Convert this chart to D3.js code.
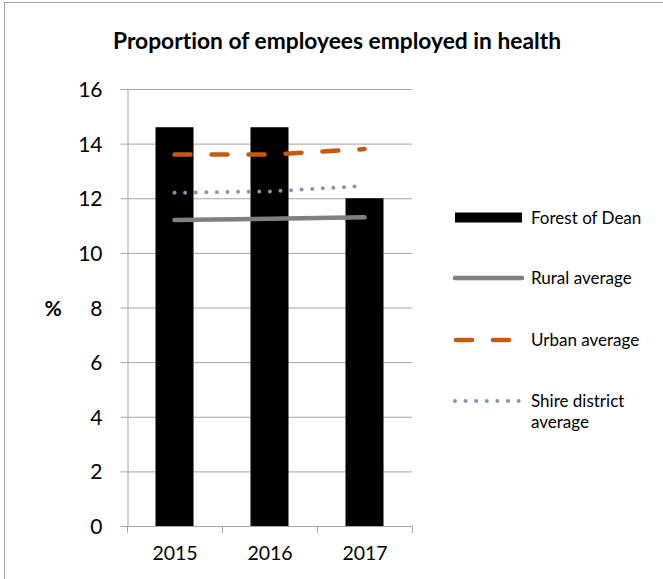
<!DOCTYPE html>
<html><head><meta charset="utf-8">
<script src="https://cdn.jsdelivr.net/npm/d3@7"></script>
<style>body{margin:0;background:#fff}svg{display:block}</style>
</head><body>
<svg id="c" width="663" height="579"></svg>
<script>
const years = ["2015","2016","2017"];
const forestOfDean = [14.6, 14.6, 12.0];
const ruralAverage = [11.2, 11.25, 11.3];
const urbanAverage = [13.6, 13.6, 13.8];
const shireAverage = [12.2, 12.25, 12.45];
const yTicks = [0,2,4,6,8,10,12,14,16];
const legendLabels = ["Forest of Dean","Rural average","Urban average",["Shire district","average"]];

const svg = d3.select("#c");
const font = "Lato, 'Open Sans', sans-serif";
svg.append("rect").attr("x",4.5).attr("y",2.5).attr("width",700).attr("height",600)
  .attr("fill","#fff").attr("stroke","#a0a0a0");

const x = d3.scaleBand().domain(years).range([127,412]).paddingInner(0.6).paddingOuter(0.3);
const xc = d3.scalePoint().domain(years).range([127,412]).padding(0.5);
const y = d3.scaleLinear().domain([0,16]).range([526,89]);

// gridlines
svg.append("g").selectAll("line").data(yTicks.filter(d=>d>0)).join("line")
  .attr("x1",127).attr("x2",412).attr("y1",d=>y(d)+0.5).attr("y2",d=>y(d)+0.5)
  .attr("stroke","#a6a6a6").attr("stroke-width",1);

// y axis
const ya = svg.append("g").attr("transform","translate(127.5,0)")
  .call(d3.axisLeft(y).tickValues(yTicks).tickSize(7).tickPadding(18).tickFormat(d3.format("d")));
ya.select(".domain").attr("stroke","#a6a6a6");
ya.selectAll(".tick line").attr("stroke","#a6a6a6");
ya.selectAll("text").attr("font-family",font).attr("font-size",21).attr("fill","#000").attr("dy","0.36em");

// bars
svg.append("g").selectAll("rect").data(years).join("rect")
  .attr("x",d=>x(d)).attr("width",x.bandwidth())
  .attr("y",(d,i)=>y(forestOfDean[i])).attr("height",(d,i)=>y(0)-y(forestOfDean[i]))
  .attr("fill","#000");

// x axis
const xa = svg.append("g").attr("transform","translate(0,526.5)")
  .call(d3.axisBottom(xc).tickSize(0).tickPadding(0));
xa.select(".domain").attr("stroke","#a6a6a6").attr("d","M127,0H412");
xa.selectAll("text").attr("font-family",font).attr("font-size",19.5).attr("fill","#000")
  .attr("dy",null).attr("y",33.5);
const bounds = [0,1,2,3].map(i=>127+i*(412-127)/3);
svg.append("g").selectAll("line").data(bounds).join("line")
  .attr("x1",d=>d+0.5).attr("x2",d=>d+0.5).attr("y1",526).attr("y2",533)
  .attr("stroke","#a6a6a6");

// lines
const line = d3.line().x((d,i)=>xc(years[i])).y(d=>y(d));
svg.append("path").datum(ruralAverage).attr("d",line).attr("fill","none")
  .attr("stroke","#808080").attr("stroke-width",4.5).attr("stroke-linecap","round");
svg.append("path").datum(urbanAverage).attr("d",line).attr("fill","none")
  .attr("stroke","#c55a11").attr("stroke-width",4.5).attr("stroke-linecap","round")
  .attr("stroke-dasharray","16,21");
svg.append("path").datum(shireAverage).attr("d",line).attr("fill","none")
  .attr("stroke","#8497b0").attr("stroke-width",4).attr("stroke-linecap","round")
  .attr("stroke-dasharray","0,10.6");

// title
svg.append("text").attr("x",337).attr("y",49).attr("text-anchor","middle")
  .attr("font-family",font).attr("font-weight","bold").attr("font-size",22)
  .attr("textLength",448).attr("lengthAdjust","spacingAndGlyphs")
  .style("font-variant-ligatures","none")
  .text("Proportion of employees employed in health");
// y label
svg.append("text").attr("x",53).attr("y",316).attr("text-anchor","middle")
  .attr("font-family",font).attr("font-weight","bold").attr("font-size",21).text("%");

// legend
const lg = svg.append("g");
const ly = [217.5,278,340,401];
lg.append("rect").attr("x",455).attr("y",ly[0]-5).attr("width",67).attr("height",10).attr("fill","#000");
lg.append("line").attr("x1",455).attr("x2",522).attr("y1",ly[1]).attr("y2",ly[1])
  .attr("stroke","#808080").attr("stroke-width",4.5).attr("stroke-linecap","round");
lg.append("line").attr("x1",456).attr("x2",522).attr("y1",ly[2]).attr("y2",ly[2])
  .attr("stroke","#c55a11").attr("stroke-width",4.5).attr("stroke-linecap","round").attr("stroke-dasharray","16,21");
lg.append("line").attr("x1",455).attr("x2",522).attr("y1",ly[3]).attr("y2",ly[3])
  .attr("stroke","#8497b0").attr("stroke-width",4).attr("stroke-linecap","round").attr("stroke-dasharray","0,10.6");
legendLabels.forEach((l,i)=>{
  const t = lg.append("text").attr("x",531).attr("y",ly[i]+6)
    .attr("font-family",font).attr("font-size",17).attr("fill","#000");
  if (Array.isArray(l)) {
    l.forEach((s,j)=>t.append("tspan").attr("x",531).attr("dy",j?21:0).text(s));
  } else t.text(l);
});
</script>
</body></html>
